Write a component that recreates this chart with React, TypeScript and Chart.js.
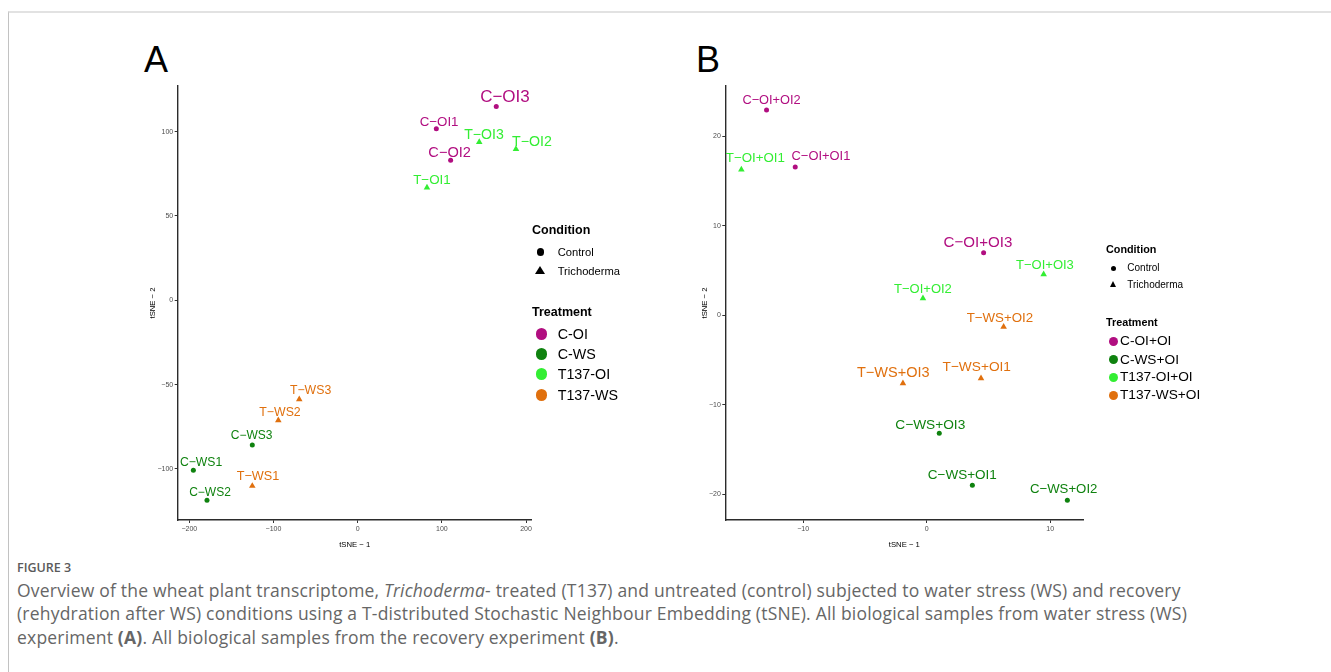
import React, { useEffect, useRef } from 'react';
import { Chart, registerables } from 'chart.js';

Chart.register(...registerables);

const SANS = '"Liberation Sans", Arial, Helvetica, sans-serif';
const CAPTION_FONT = '"Open Sans", "Noto Sans", sans-serif';

// ---------------- Panel A (water stress experiment) ----------------
const A_COI_NAMES = ['C−OI1', 'C−OI2', 'C−OI3'];
const A_COI_X = [93.4, 110.4, 164.6];
const A_COI_Y = [101.8, 83.0, 115.0];

const A_CWS_NAMES = ['C−WS1', 'C−WS2', 'C−WS3'];
const A_CWS_X = [-195.2, -179.0, -125.2];
const A_CWS_Y = [-100.8, -118.6, -85.8];

const A_TOI_NAMES = ['T−OI1', 'T−OI2', 'T−OI3'];
const A_TOI_X = [82.3, 188.0, 144.4];
const A_TOI_Y = [66.8, 89.7, 93.9];

const A_TWS_NAMES = ['T−WS1', 'T−WS2', 'T−WS3'];
const A_TWS_X = [-125.2, -94.3, -69.4];
const A_TWS_Y = [-110.1, -71.2, -58.7];

const A_TREATMENTS = ['C-OI', 'C-WS', 'T137-OI', 'T137-WS'];

// ---------------- Panel B (recovery experiment) ----------------
const B_COI_NAMES = ['C−OI+OI1', 'C−OI+OI2', 'C−OI+OI3'];
const B_COI_X = [-10.64, -12.96, 4.61];
const B_COI_Y = [16.6, 22.96, 7.0];

const B_CWS_NAMES = ['C−WS+OI1', 'C−WS+OI2', 'C−WS+OI3'];
const B_CWS_X = [3.7, 11.39, 1.02];
const B_CWS_Y = [-19.0, -20.7, -13.2];

const B_TOI_NAMES = ['T−OI+OI1', 'T−OI+OI2', 'T−OI+OI3'];
const B_TOI_X = [-15.0, -0.3, 9.47];
const B_TOI_Y = [16.3, 1.9, 4.58];

const B_TWS_NAMES = ['T−WS+OI1', 'T−WS+OI2', 'T−WS+OI3'];
const B_TWS_X = [4.4, 6.23, -1.92];
const B_TWS_Y = [-7.05, -1.3, -7.6];

const B_TREATMENTS = ['C-OI+OI', 'C-WS+OI', 'T137-OI+OI', 'T137-WS+OI'];

const CONDITIONS = ['Control', 'Trichoderma'];

// axis extents / ticks
const A_X_RANGE = [-213.8, 206.7];
const A_Y_RANGE = [-130.3, 127.1];
const A_X_STEP = 100;
const A_Y_STEP = 50;
const B_X_RANGE = [-16.3, 12.68];
const B_Y_RANGE = [-22.9, 25.65];
const B_X_STEP = 10;
const B_Y_STEP = 10;

// ---------------- styles ----------------
const COLORS = ['#B10E80', '#0F820F', '#33EE33', '#E0700E'];

// label offsets in px: [dx, baseline above point, font size]
const LABEL_STYLE: Record<string, number[]> = {
  'C−OI1': [2.8, 2.7, 13.3],
  'C−OI2': [-1, 3, 14.6],
  'C−OI3': [8.7, 4.7, 17],
  'T−OI1': [5, 3.3, 13.4],
  'T−OI2': [16, 3, 14.2],
  'T−OI3': [4.7, 3, 14.1],
  'T−WS1': [5.7, 6, 12.7],
  'T−WS2': [1.7, 4.3, 12.3],
  'T−WS3': [11.3, 5.3, 12.3],
  'C−WS1': [7.7, 4.7, 12.2],
  'C−WS2': [3, 4, 12],
  'C−WS3': [-0.7, 6, 12],
  'C−OI+OI2': [5, 5.7, 12.8],
  'T−OI+OI1': [14, 8, 13.3],
  'C−OI+OI1': [25.7, 6.7, 12.9],
  'C−OI+OI3': [-5.7, 6, 15.1],
  'T−OI+OI3': [1.3, 5, 13],
  'T−OI+OI2': [0, 5.7, 13],
  'T−WS+OI2': [-3.7, 5.3, 13.3],
  'T−WS+OI3': [-9.7, 6.3, 14.5],
  'T−WS+OI1': [-4.3, 7.3, 13.7],
  'C−WS+OI3': [-9, 4.7, 13.7],
  'C−WS+OI1': [-10, 6.3, 13.5],
  'C−WS+OI2': [-3.7, 7, 13.2],
};

function makeDataset(label: string, names: string[], xs: number[], ys: number[], color: string, triangle: boolean) {
  return {
    label,
    names,
    data: xs.map((x, i) => ({ x, y: ys[i] })),
    backgroundColor: color,
    borderColor: color,
    pointStyle: triangle ? 'triangle' : 'circle',
    pointRadius: triangle ? 3.8 : 2.5,
    pointBorderWidth: 0,
    showLine: false,
  };
}

const labelPlugin = {
  id: 'pointNameLabels',
  afterDatasetsDraw(chart: any) {
    const ctx = chart.ctx;
    ctx.save();
    chart.data.datasets.forEach((ds: any, di: number) => {
      const meta = chart.getDatasetMeta(di);
      meta.data.forEach((el: any, i: number) => {
        const name = ds.names[i];
        const st = LABEL_STYLE[name] || [0, 5, 13];
        ctx.font = `${st[2]}px ${SANS}`;
        ctx.fillStyle = ds.backgroundColor;
        ctx.textAlign = 'center';
        ctx.textBaseline = 'alphabetic';
        ctx.fillText(name, el.x + st[0], el.y - st[1]);
      });
    });
    ctx.restore();
  },
};

interface PanelCfg {
  datasets: any[];
  xRange: number[];
  yRange: number[];
  xStep: number;
  yStep: number;
  yAxisWidth: number;
  yTitlePad: number;
  padRight: number;
}

const CANVAS_W = 470;
const CANVAS_H = 470;

function axis(range: number[], step: number, title: string, horizontal: boolean, size: number, titlePad: number) {
  return {
    type: 'linear',
    min: range[0],
    max: range[1],
    ticks: {
      stepSize: step,
      includeBounds: false,
      color: '#4D4D4D',
      font: { family: SANS, size: 7 },
      padding: 1.5,
      maxRotation: 0,
      callback: (v: number) => (v < 0 ? '−' + Math.abs(v) : String(v)),
    },
    grid: {
      display: true,
      drawOnChartArea: false,
      drawTicks: true,
      tickLength: 3,
      color: '#333333',
      lineWidth: 1,
    },
    border: { display: true, color: '#2B2B2B', width: 1.4 },
    title: {
      display: true,
      text: title,
      color: '#000000',
      font: { family: SANS, size: 7.7 },
      padding: { top: titlePad, bottom: 0 },
    },
    afterFit: (s: any) => {
      if (horizontal) s.height = size;
      else s.width = size;
    },
  };
}

function Panel({ cfg, left, top }: { cfg: PanelCfg; left: number; top: number }) {
  const ref = useRef<HTMLCanvasElement>(null);
  useEffect(() => {
    const chart = new Chart(ref.current as HTMLCanvasElement, {
      type: 'scatter',
      data: { datasets: cfg.datasets },
      options: {
        animation: false,
        responsive: false,
        devicePixelRatio: 1,
        events: [],
        layout: { padding: { left: 0, top: 6, right: cfg.padRight, bottom: 0 } },
        plugins: { legend: { display: false }, tooltip: { enabled: false } },
        scales: {
          x: axis(cfg.xRange, cfg.xStep, 'tSNE − 1', true, 30, 10.2),
          y: axis(cfg.yRange, cfg.yStep, 'tSNE − 2', false, cfg.yAxisWidth, cfg.yTitlePad),
        },
      } as any,
      plugins: [labelPlugin],
    } as any);
    return () => chart.destroy();
  }, []);
  return (
    <div style={{ position: 'absolute', left, top, width: CANVAS_W, height: CANVAS_H }}>
      <canvas ref={ref} width={CANVAS_W} height={CANVAS_H} style={{ display: 'block' }} />
    </div>
  );
}

// text helper: (x, baseline) positioned, Liberation Sans metrics
function Txt({ x, base, size, bold, children, color }: any) {
  return (
    <div
      style={{
        position: 'absolute',
        left: x,
        top: base - 0.8465 * size,
        fontFamily: SANS,
        fontSize: size,
        lineHeight: `${size}px`,
        fontWeight: bold ? 700 : 400,
        color: color || '#000',
        whiteSpace: 'nowrap',
      }}
    >
      {children}
    </div>
  );
}

function Dot({ cx, cy, r, color }: any) {
  return (
    <div
      style={{
        position: 'absolute',
        left: cx - r,
        top: cy - r,
        width: 2 * r,
        height: 2 * r,
        borderRadius: '50%',
        background: color,
      }}
    />
  );
}

function Tri({ cx, cy, w, h, color }: any) {
  return (
    <div
      style={{
        position: 'absolute',
        left: cx - w / 2,
        top: cy - (h * 2) / 3,
        width: 0,
        height: 0,
        borderLeft: `${w / 2}px solid transparent`,
        borderRight: `${w / 2}px solid transparent`,
        borderBottom: `${h}px solid ${color}`,
      }}
    />
  );
}

interface LegendGeom {
  x: number;
  condTitleBase: number;
  titleSize: number;
  condSymX: number;
  condTextX: number;
  condY: number[];
  condR: number;
  triW: number;
  triH: number;
  condSize: number;
  treatTitleBase: number;
  treatSymX: number;
  treatTextX: number;
  treatY: number[];
  treatR: number;
  treatSize: number;
}

function Legend({ g, treatments }: { g: LegendGeom; treatments: string[] }) {
  return (
    <>
      <Txt x={g.x} base={g.condTitleBase} size={g.titleSize} bold>
        Condition
      </Txt>
      <Dot cx={g.condSymX} cy={g.condY[0]} r={g.condR} color="#000" />
      <Txt x={g.condTextX} base={g.condY[0] + 0.358 * g.condSize} size={g.condSize}>
        {CONDITIONS[0]}
      </Txt>
      <Tri cx={g.condSymX} cy={g.condY[1]} w={g.triW} h={g.triH} color="#000" />
      <Txt x={g.condTextX} base={g.condY[1] + 0.358 * g.condSize} size={g.condSize}>
        {CONDITIONS[1]}
      </Txt>
      <Txt x={g.x} base={g.treatTitleBase} size={g.titleSize} bold>
        Treatment
      </Txt>
      {treatments.map((t, i) => (
        <React.Fragment key={t}>
          <Dot cx={g.treatSymX} cy={g.treatY[i]} r={g.treatR} color={COLORS[i]} />
          <Txt x={g.treatTextX} base={g.treatY[i] + 0.358 * g.treatSize} size={g.treatSize}>
            {t}
          </Txt>
        </React.Fragment>
      ))}
    </>
  );
}

const PANEL_A: PanelCfg = {
  datasets: [
    makeDataset(A_TREATMENTS[0], A_COI_NAMES, A_COI_X, A_COI_Y, COLORS[0], false),
    makeDataset(A_TREATMENTS[1], A_CWS_NAMES, A_CWS_X, A_CWS_Y, COLORS[1], false),
    makeDataset(A_TREATMENTS[2], A_TOI_NAMES, A_TOI_X, A_TOI_Y, COLORS[2], true),
    makeDataset(A_TREATMENTS[3], A_TWS_NAMES, A_TWS_X, A_TWS_Y, COLORS[3], true),
  ],
  xRange: A_X_RANGE,
  yRange: A_Y_RANGE,
  xStep: A_X_STEP,
  yStep: A_Y_STEP,
  yAxisWidth: 47.7,
  yTitlePad: 17.9,
  padRight: CANVAS_W - 410 + 8.3,
};

const PANEL_B: PanelCfg = {
  datasets: [
    makeDataset(B_TREATMENTS[0], B_COI_NAMES, B_COI_X, B_COI_Y, COLORS[0], false),
    makeDataset(B_TREATMENTS[1], B_CWS_NAMES, B_CWS_X, B_CWS_Y, COLORS[1], false),
    makeDataset(B_TREATMENTS[2], B_TOI_NAMES, B_TOI_X, B_TOI_Y, COLORS[2], true),
    makeDataset(B_TREATMENTS[3], B_TWS_NAMES, B_TWS_X, B_TWS_Y, COLORS[3], true),
  ],
  xRange: B_X_RANGE,
  yRange: B_Y_RANGE,
  xStep: B_X_STEP,
  yStep: B_Y_STEP,
  yAxisWidth: 35.3,
  yTitlePad: 10.2,
  padRight: CANVAS_W - 410 + 16.7,
};

const LEGEND_A: LegendGeom = {
  x: 532,
  condTitleBase: 234.3,
  titleSize: 12.5,
  condSymX: 540.5,
  condTextX: 557.7,
  condY: [252, 271.5],
  condR: 3.6,
  triW: 10.3,
  triH: 8.5,
  condSize: 11.2,
  treatTitleBase: 316.7,
  treatSymX: 541.5,
  treatTextX: 557.7,
  treatY: [334, 354, 374, 395],
  treatR: 5.8,
  treatSize: 14.3,
};

const LEGEND_B: LegendGeom = {
  x: 1106,
  condTitleBase: 253.3,
  titleSize: 10.8,
  condSymX: 1113.5,
  condTextX: 1127.3,
  condY: [268.3, 285.3],
  condR: 2.8,
  triW: 7.3,
  triH: 6,
  condSize: 10,
  treatTitleBase: 325.7,
  treatSymX: 1113.5,
  treatTextX: 1120,
  treatY: [341, 359.3, 377, 395],
  treatR: 4.5,
  treatSize: 13.7,
};

const CAP_LEFT = 17;
const CAP_SIZE = 17.5;

function CapLine({ base, children }: any) {
  return (
    <div
      style={{
        position: 'absolute',
        left: CAP_LEFT,
        top: base - 0.888 * CAP_SIZE,
        fontFamily: CAPTION_FONT,
        fontSize: CAP_SIZE,
        lineHeight: `${CAP_SIZE}px`,
        letterSpacing: 0.2,
        color: '#666666',
        whiteSpace: 'nowrap',
      }}
    >
      {children}
    </div>
  );
}

export default function App() {
  useEffect(() => {
    document.body.style.margin = '0';
  }, []);
  return (
    <div style={{ position: 'relative', width: 1331, height: 672, overflow: 'hidden', background: '#fff' }}>
      <style>{'body{margin:0}'}</style>
      <div
        style={{
          position: 'absolute',
          left: 8,
          top: 11,
          width: 1331,
          height: 700,
          borderTop: '2px solid #E2E2E2',
          borderLeft: '1px solid #C2C2C2',
        }}
      />
      <Panel cfg={PANEL_A} left={130} top={80} />
      <Panel cfg={PANEL_B} left={690} top={80} />
      <Txt x={144} base={72.7} size={36}>
        A
      </Txt>
      <Txt x={696} base={72.7} size={36}>
        B
      </Txt>
      <Legend g={LEGEND_A} treatments={A_TREATMENTS} />
      <Legend g={LEGEND_B} treatments={B_TREATMENTS} />
      <div
        style={{
          position: 'absolute',
          left: CAP_LEFT,
          top: 573 - 0.888 * 12.5,
          fontFamily: CAPTION_FONT,
          fontSize: 12.5,
          lineHeight: '12.5px',
          fontWeight: 600,
          color: '#5A5A5A',
          whiteSpace: 'nowrap',
        }}
      >
        FIGURE 3
      </div>
      <CapLine base={597.5}>
        Overview of the wheat plant transcriptome, <i>Trichoderma</i>- treated (T137) and untreated (control) subjected
        to water stress (WS) and recovery
      </CapLine>
      <CapLine base={621}>
        (rehydration after WS) conditions using a T-distributed Stochastic Neighbour Embedding (tSNE). All biological
        samples from water stress (WS)
      </CapLine>
      <CapLine base={644.5}>
        experiment <b>(A)</b>. All biological samples from the recovery experiment <b>(B)</b>.
      </CapLine>
    </div>
  );
}
